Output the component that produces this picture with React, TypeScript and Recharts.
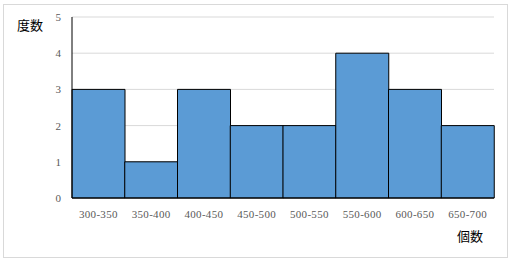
import React from 'react';
import { BarChart, Bar, XAxis, YAxis, CartesianGrid } from 'recharts';

const categories = ['300-350', '350-400', '400-450', '450-500', '500-550', '550-600', '600-650', '650-700'];
const counts = [3, 1, 3, 2, 2, 4, 3, 2];
const yTicks = [0, 1, 2, 3, 4, 5];
const yTitle = '度数';
const xTitle = '個数';

const data = categories.map((c, i) => ({ name: c, value: counts[i] }));

const tickStyle = { fontFamily: '"Liberation Serif", "DejaVu Serif", serif', fontSize: 11, fill: '#595959' };
const xTickStyle = { ...tickStyle, letterSpacing: 0.3 };
const cjk = '"Noto Sans CJK JP", "Noto Sans CJK SC", sans-serif';

export default function App() {
  return (
    <div style={{ position: 'absolute', left: 0, top: 0, width: 514, height: 266, background: '#fff' }}>
      <div
        style={{
          position: 'absolute',
          left: 3,
          top: 4,
          width: 505,
          height: 254,
          border: '1px solid #d9d9d9',
          boxSizing: 'border-box',
        }}
      />
      <BarChart
        width={514}
        height={266}
        data={data}
        margin={{ top: 17, right: 20, bottom: 38, left: 0 }}
        barCategoryGap={0}
        style={{ position: 'absolute', left: 0, top: 0 }}
      >
        <CartesianGrid vertical={false} stroke="#d9d9d9" />
        <XAxis
          dataKey="name"
          height={30}
          tickLine={false}
          tickSize={0}
          tickMargin={12}
          axisLine={{ stroke: '#000' }}
          tick={xTickStyle}
          interval={0}
        />
        <YAxis
          width={72}
          domain={[0, 5]}
          ticks={yTicks}
          tickLine={false}
          tickSize={0}
          tickMargin={11}
          axisLine={{ stroke: '#000' }}
          tick={tickStyle}
        />
        <Bar dataKey="value" fill="#5B9BD5" stroke="#000" strokeWidth={1} isAnimationActive={false} />
      </BarChart>
      <div style={{ position: 'absolute', left: 17, top: 18, fontFamily: cjk, fontSize: 13, lineHeight: '14px', color: '#000' }}>
        {yTitle}
      </div>
      <div style={{ position: 'absolute', left: 457, top: 229, fontFamily: cjk, fontSize: 13, lineHeight: '14px', color: '#000' }}>
        {xTitle}
      </div>
    </div>
  );
}
